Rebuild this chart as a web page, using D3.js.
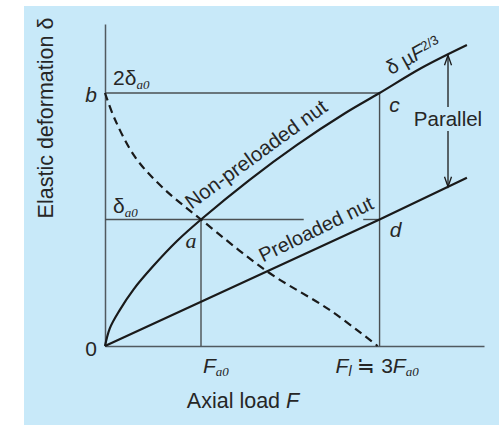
<!DOCTYPE html>
<html>
<head>
<meta charset="utf-8">
<script src="https://cdn.jsdelivr.net/npm/d3@7"></script>
<style>
  body { margin: 0; background: #fff; }
  text { font-family: "Liberation Sans", Arial, sans-serif; fill: #262626; }
  tspan.sub { font-family: "Liberation Serif", "DejaVu Serif", serif; font-style: italic; }
</style>
</head>
<body>
<div id="chart"></div>
<script>
// Data (F in units of Fa0, delta in units of delta_a0)
const nonPreF = [0, 0.05, 0.15, 0.3, 0.5, 0.75, 1, 1.5, 2, 2.5, 2.86, 3.3, 3.77]
const nonPreD = [0, 0.14, 0.28, 0.45, 0.63, 0.83, 1, 1.31, 1.59, 1.84, 2.0, 2.2, 2.38]

const preF = [0, 2.86, 3.77]
const preD = [0, 1.0, 1.33]

const otherF = [0, 0.104, 0.3125, 0.594, 1, 1.698, 2.34, 2.84]
const otherD = [2.0, 1.79, 1.495, 1.257, 1.0, 0.585, 0.285, 0]

const Fa0 = 1
const Fl = 2.86
const delta0 = 1
const delta2 = 2
const arrowF = 3.573

const width = 499
const height = 425

const svg = d3.select("#chart").append("svg").attr("width", width).attr("height", height)

// light blue panel
svg.append("rect").attr("x", 24).attr("y", 6).attr("width", width - 24).attr("height", height - 6).attr("fill", "#c8e9f9")

const x = d3.scaleLinear().domain([0, 4]).range([105, 489])
const y = d3.scaleLinear().domain([0, 2]).range([346, 93])

// axes, no ticks
const axisColor = "#505a60"
svg.append("g").attr("transform", `translate(0,${y(0)})`)
  .call(d3.axisBottom(x.copy().domain([0, 3.95]).range([105, 484])).tickValues([]).tickSizeOuter(0))
svg.append("g").attr("transform", `translate(${x(0)},0)`)
  .call(d3.axisLeft(y.copy().domain([0, 2.545]).range([346, 24])).tickValues([]).tickSizeOuter(0))
svg.selectAll(".domain").attr("stroke", axisColor).attr("stroke-width", 1.5)

// guide lines
const guides = [
  [[0, delta2], [Fl, delta2]],
  [[0, delta0], [2.07, delta0]],
  [[2.69, delta0], [Fl, delta0]],
  [[Fa0, 0], [Fa0, delta0]],
  [[Fl, 0], [Fl, delta2]],
]
const line = d3.line().x((d) => x(d[0])).y((d) => y(d[1]))
svg.append("g").selectAll("path").data(guides).enter().append("path")
  .attr("d", line).attr("fill", "none").attr("stroke", "#4a4f52").attr("stroke-width", 1.4)

// curves
const curveLine = d3.line().x((d) => x(d[0])).y((d) => y(d[1])).curve(d3.curveCatmullRom.alpha(0.5))
const nonPre = nonPreF.map((f, i) => [f, nonPreD[i]])
const pre = preF.map((f, i) => [f, preD[i]])
const other = otherF.map((f, i) => [f, otherD[i]])

svg.append("path").attr("d", curveLine(nonPre)).attr("fill", "none").attr("stroke", "#1a1a1a").attr("stroke-width", 2.2)
svg.append("path").attr("d", line(pre)).attr("fill", "none").attr("stroke", "#1a1a1a").attr("stroke-width", 2.2)
svg.append("path").attr("d", curveLine(other)).attr("fill", "none").attr("stroke", "#1a1a1a")
  .attr("stroke-width", 2.2).attr("stroke-dasharray", "8,5")

// double arrow "Parallel"
const topY = y(d3.scaleLinear().domain([Fl, 3.77]).range([2.0, 2.38])(arrowF))
const botY = y(d3.scaleLinear().domain([Fl, 3.77]).range([1.0, 1.33])(arrowF))
const ax = x(arrowF)
const arrow = svg.append("g").attr("stroke", "#1a1a1a").attr("stroke-width", 1.3).attr("fill", "none")
arrow.append("line").attr("x1", ax).attr("x2", ax).attr("y1", topY).attr("y2", 107)
arrow.append("line").attr("x1", ax).attr("x2", ax).attr("y1", 131).attr("y2", botY)
arrow.append("path").attr("d", `M${ax - 3.5},${topY + 10}L${ax},${topY}L${ax + 3.5},${topY + 10}`)
arrow.append("path").attr("d", `M${ax - 3.5},${botY - 10}L${ax},${botY}L${ax + 3.5},${botY - 10}`)

svg.append("text").attr("x", ax).attr("y", 126).attr("text-anchor", "middle").attr("font-size", 20.5).text("Parallel")

// point labels
const italic = (t, px, py, anchor = "middle") =>
  svg.append("text").attr("x", px).attr("y", py).attr("text-anchor", anchor)
    .attr("font-size", 21).attr("font-style", "italic").text(t)

svg.append("text").attr("x", x(0) - 14).attr("y", y(0) + 10).attr("text-anchor", "middle").attr("font-size", 21).text("0")
italic("b", x(0) - 14, y(delta2) + 9)
italic("c", x(Fl) + 15, y(delta2) + 19)
italic("d", x(Fl) + 16, y(delta0) + 17)
svg.append("text").attr("x", x(Fa0) - 10).attr("y", y(delta0) + 28).attr("text-anchor", "middle")
  .attr("font-size", 22).attr("font-style", "italic").style("font-family", "'Liberation Serif', serif").text("a")

// delta labels
const t2 = svg.append("text").attr("x", x(0) + 8).attr("y", y(delta2) - 8).attr("font-size", 21)
t2.append("tspan").text("2δ")
t2.append("tspan").attr("class", "sub").attr("font-size", 13).attr("dy", 4).text("a0")

const t1 = svg.append("text").attr("x", x(0) + 8).attr("y", y(delta0) - 7).attr("font-size", 21)
t1.append("tspan").text("δ")
t1.append("tspan").attr("class", "sub").attr("font-size", 13).attr("dy", 4).text("a0")

// x labels
const fa = svg.append("text").attr("x", x(Fa0) + 2).attr("y", 373).attr("font-size", 21)
fa.append("tspan").attr("font-style", "italic").text("F")
fa.append("tspan").attr("class", "sub").attr("font-size", 13).attr("dy", 3).text("a0")

const fl = svg.append("text").attr("x", x(Fl) - 44).attr("y", 373).attr("font-size", 21)
fl.append("tspan").attr("font-style", "italic").text("F")
fl.append("tspan").attr("font-style", "italic").attr("font-size", 14).attr("dy", 3).text("l")
fl.append("tspan").attr("dy", -3).text(" ≒ 3")
fl.append("tspan").attr("font-style", "italic").text("F")
fl.append("tspan").attr("class", "sub").attr("font-size", 13).attr("dy", 3).text("a0")

const xl = svg.append("text").attr("x", 243).attr("y", 408).attr("text-anchor", "middle").attr("font-size", 21.5)
xl.append("tspan").text("Axial load ")
xl.append("tspan").attr("font-style", "italic").text("F")

svg.append("text").attr("transform", "translate(53,118) rotate(-90)").attr("text-anchor", "middle")
  .attr("font-size", 21.5).text("Elastic deformation δ")

// labels along the curves
svg.append("text").attr("transform", "translate(256,154) rotate(-36)").attr("text-anchor", "middle")
  .attr("dy", "0.35em").attr("font-size", 20.5).text("Non-preloaded nut")

svg.append("text").attr("transform", "translate(316,229) rotate(-26)").attr("text-anchor", "middle")
  .attr("dy", "0.35em").attr("font-size", 20).text("Preloaded nut")

const prop = svg.append("text").attr("transform", "translate(413,55) rotate(-29)").attr("text-anchor", "middle")
  .attr("dy", "0.35em").attr("font-size", 20)
prop.append("tspan").text("δ µ")
prop.append("tspan").attr("font-style", "italic").text("F")
prop.append("tspan").attr("font-size", 13).attr("dy", -5).text("2/3")
</script>
</body>
</html>
